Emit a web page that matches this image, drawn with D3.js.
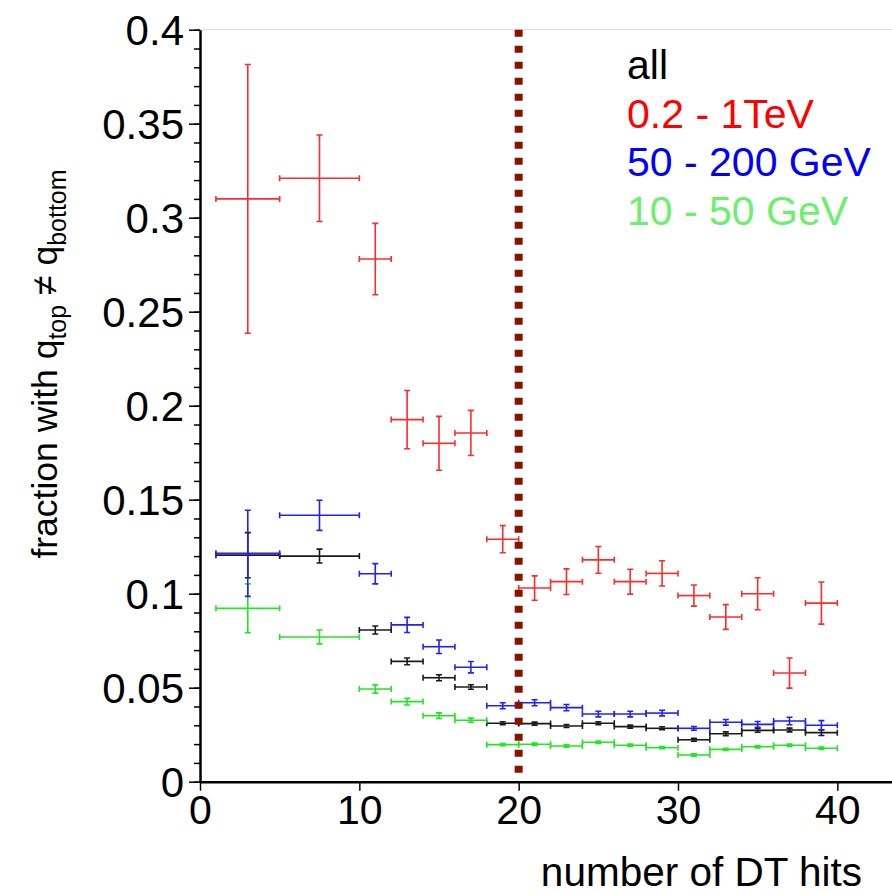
<!DOCTYPE html>
<html>
<head>
<meta charset="utf-8">
<script src="https://cdn.jsdelivr.net/npm/d3@7"></script>
<style>
  body { margin: 0; background: #fff; }
  text { font-family: "Liberation Sans", Arial, Helvetica, sans-serif; }
</style>
</head>
<body>
<div id="chart"></div>
<script>
// bin edges (number of DT hits)
var binEdges = [1, 5, 10, 12, 14, 16, 18, 20, 22, 24, 26, 28, 30, 32, 34, 36, 38, 40];

var allVals = [0.1205, 0.120, 0.0807, 0.064, 0.0553, 0.0504, 0.0311, 0.0309, 0.0296, 0.0311, 0.0293, 0.0284, 0.0223, 0.0255, 0.0273, 0.0275, 0.0261];
var allErrs = [0.012, 0.0037, 0.0021, 0.0018, 0.0016, 0.0012, 0.0008, 0.0008, 0.0008, 0.0008, 0.0008, 0.0008, 0.0008, 0.001, 0.001, 0.001, 0.0015];

var tevVals = [0.310, 0.321, 0.278, 0.1926, 0.180, 0.1855, 0.129, 0.103, 0.1064, 0.118, 0.1064, 0.1108, 0.099, 0.0876, 0.100, 0.0578, 0.095];
var tevErrs = [0.0715, 0.023, 0.019, 0.0155, 0.0143, 0.012, 0.0072, 0.0065, 0.0068, 0.0071, 0.0066, 0.0067, 0.0056, 0.0066, 0.0085, 0.008, 0.0112];

var midVals = [0.1215, 0.1417, 0.1106, 0.0834, 0.0718, 0.0609, 0.0404, 0.042, 0.0394, 0.036, 0.036, 0.0365, 0.0284, 0.0316, 0.0305, 0.0323, 0.030];
var midErrs = [0.0229, 0.008, 0.0054, 0.004, 0.0036, 0.003, 0.0016, 0.0016, 0.0017, 0.0015, 0.0015, 0.0015, 0.001, 0.0015, 0.0015, 0.002, 0.0025];

var lowVals = [0.0922, 0.077, 0.0493, 0.0426, 0.0351, 0.0327, 0.0197, 0.0199, 0.019, 0.021, 0.0194, 0.0181, 0.0142, 0.0172, 0.0186, 0.0194, 0.0178];
var lowErrs = [0.013, 0.0037, 0.0022, 0.0018, 0.0015, 0.0011, 0.0006, 0.0006, 0.0006, 0.0006, 0.0006, 0.0006, 0.0006, 0.0006, 0.0006, 0.0006, 0.0006];

var seriesNames = ["all", "0.2 - 1TeV", "50 - 200 GeV", "10 - 50 GeV"];
var cutValue = 20;

var width = 892, height = 894;

var svg = d3.select("#chart")
  .append("svg")
    .attr("width", width)
    .attr("height", height);

var x = d3.scaleLinear()
    .domain([0, 45])
    .range([200, 917]);

var y = d3.scaleLinear()
    .domain([0, 0.4])
    .range([781.7, 29.7]);

// top frame line
svg.append("line")
    .attr("x1", x(0)).attr("x2", width)
    .attr("y1", y(0.4)).attr("y2", y(0.4))
    .attr("stroke", "#d8d8d8")
    .attr("stroke-width", 1);

// y axis: minor then major ticks
var yMinor = svg.append("g")
    .attr("transform", "translate(" + x(0) + ",0)")
    .call(d3.axisLeft(y).tickValues(d3.range(0, 0.4001, 0.01)).tickSize(6).tickSizeOuter(0).tickFormat(""));
yMinor.select(".domain").attr("stroke-width", 2.5);
yMinor.selectAll(".tick line").attr("stroke-width", 1.5);

var yMajor = svg.append("g")
    .attr("transform", "translate(" + x(0) + ",0)")
    .call(d3.axisLeft(y).tickValues([0, 0.05, 0.1, 0.15, 0.2, 0.25, 0.3, 0.35, 0.4])
      .tickSize(11).tickSizeOuter(0).tickPadding(5)
      .tickFormat(function(d) { return d === 0 ? "0" : d3.format("")(+d.toFixed(2)); }));
yMajor.select(".domain").remove();
yMajor.selectAll(".tick line").attr("stroke-width", 1.5);
yMajor.selectAll(".tick text")
    .attr("font-size", "42px")
    .attr("fill", "#000")
    .attr("dy", "0.36em");

// x axis
var xAxis = svg.append("g")
    .attr("transform", "translate(0," + y(0) + ")")
    .call(d3.axisBottom(x).tickValues([0, 10, 20, 30, 40]).tickSize(9).tickSizeOuter(0).tickPadding(4));
xAxis.select(".domain").attr("stroke-width", 2.5);
xAxis.selectAll(".tick line").attr("stroke-width", 1.5);
xAxis.selectAll(".tick text")
    .attr("font-size", "41px")
    .attr("fill", "#000");

// error bars, one group per series
var series = [
  {vals: allVals, errs: allErrs, color: "#1a1a1a"},
  {vals: lowVals, errs: lowErrs, color: "#22e622"},
  {vals: tevVals, errs: tevErrs, color: "#ff2a2a"},
  {vals: midVals, errs: midErrs, color: "#2020ff"}
];
var cap = 3;

series.forEach(function(s) {
  var pts = s.vals.map(function(v, i) {
    return {lo: binEdges[i], hi: binEdges[i + 1], mid: (binEdges[i] + binEdges[i + 1]) / 2, v: v, e: s.errs[i]};
  });
  var g = svg.append("g")
      .attr("stroke", s.color)
      .attr("stroke-width", 1.6)
      .attr("fill", "none");
  var bar = g.selectAll("g").data(pts).enter().append("g");
  bar.append("line")
      .attr("x1", function(d) { return x(d.lo); })
      .attr("x2", function(d) { return x(d.hi); })
      .attr("y1", function(d) { return y(d.v); })
      .attr("y2", function(d) { return y(d.v); });
  bar.append("line")
      .attr("x1", function(d) { return x(d.mid); })
      .attr("x2", function(d) { return x(d.mid); })
      .attr("y1", function(d) { return y(d.v + d.e); })
      .attr("y2", function(d) { return y(d.v - d.e); });
  // end caps
  bar.append("path")
      .attr("d", function(d) {
        var xl = x(d.lo), xh = x(d.hi), xm = x(d.mid), yv = y(d.v);
        var yt = y(d.v + d.e), yb = y(d.v - d.e);
        return "M" + xl + "," + (yv - cap) + "V" + (yv + cap) +
               "M" + xh + "," + (yv - cap) + "V" + (yv + cap) +
               "M" + (xm - cap) + "," + yt + "H" + (xm + cap) +
               "M" + (xm - cap) + "," + yb + "H" + (xm + cap);
      });
});

// cut line at 20 hits
svg.append("line")
    .attr("x1", x(cutValue)).attr("x2", x(cutValue))
    .attr("y1", y(0.4)).attr("y2", y(0))
    .attr("stroke", "#8a1200")
    .attr("stroke-width", 8)
    .attr("stroke-dasharray", "7,9");

// legend
var legendColors = ["#000000", "#ff0000", "#0000ff", "#6cf06c"];
svg.append("g").selectAll("text")
  .data(seriesNames)
  .enter().append("text")
    .attr("x", 627)
    .attr("y", function(d, i) { return 79 + i * 48.7; })
    .attr("font-size", "41px")
    .attr("fill", function(d, i) { return legendColors[i]; })
    .text(function(d) { return d; });

// axis titles
svg.append("text")
    .attr("x", 862)
    .attr("y", 886)
    .attr("text-anchor", "end")
    .attr("font-size", "40.5px")
    .text("number of DT hits");

var yTitle = svg.append("text")
    .attr("transform", "translate(57,364) rotate(-90)")
    .attr("text-anchor", "middle")
    .attr("font-size", "35.5px");
yTitle.append("tspan").text("fraction with q");
yTitle.append("tspan").attr("font-size", "25px").attr("dy", 9).text("top");
yTitle.append("tspan").attr("dy", -9).text(" \u2260 q");
yTitle.append("tspan").attr("font-size", "25px").attr("dy", 9).text("bottom");
</script>
</body>
</html>
